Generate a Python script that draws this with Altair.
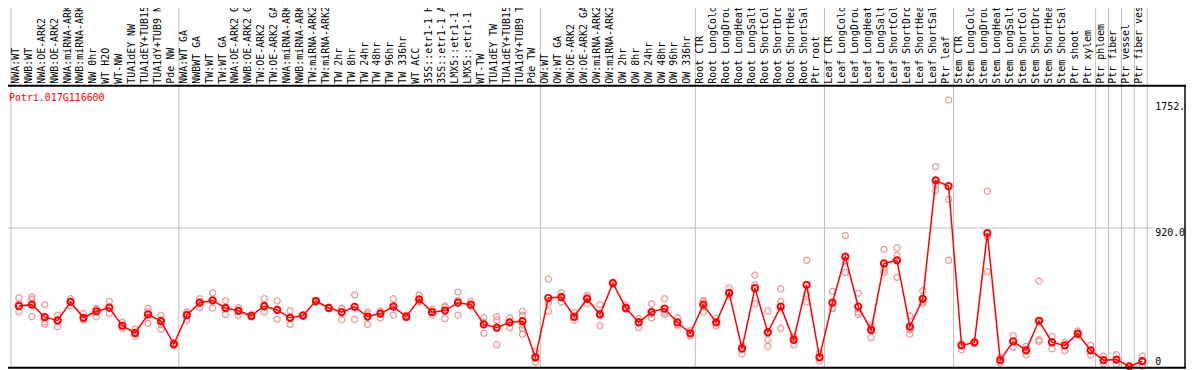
import altair as alt
import pandas as pd

TITLE = "Potri.017G116600"

LABELS = [
    "NWA:WT", "NWB:WT", "NWA:OE-ARK2", "NWB:OE-ARK2", "NWA:miRNA-ARK2", "NWB:miRNA-ARK2",
    "NW 0hr", "WT H2O", "WT-NW", "TUA1dEY NW", "TUA1dEY+TUB15", "TUA1dY+TUB9 NW", "Pde NW",
    "NWA:WT GA", "NWBWT GA", "TW:WT", "TW:WT GA", "NWA:OE-ARK2 GA", "NWB:OE-ARK2 GA",
    "TW:OE-ARK2", "TW:OE-ARK2 GA", "NWA:miRNA-ARK2", "NWB:miRNA-ARK2", "TW:miRNA-ARK2",
    "TW:miRNA-ARK2", "TW 2hr", "TW 8hr", "TW 24hr", "TW 48hr", "TW 96hr", "TW 336hr",
    "WT ACC", "35S::etr1-1 H2", "35S::etr1-1 AC", "LMX5::etr1-1 H", "LMX5::etr1-1 A",
    "WT-TW", "TUA1dEY TW", "TUA1dEY+TUB15", "TUA1dY+TUB9 TW", "Pde TW",
    "OW:WT", "OW:WT GA", "OW:OE-ARK2", "OW:OE-ARK2 GA", "OW:miRNA-ARK2", "OW:miRNA-ARK2",
    "OW 2hr", "OW 8hr", "OW 24hr", "OW 48hr", "OW 96hr", "OW 336hr",
    "Root CTR", "Root LongCold", "Root LongDroug", "Root LongHeat", "Root LongSalt",
    "Root ShortCold", "Root ShortDrou", "Root ShortHeat", "Root ShortSalt", "Ptr root",
    "Leaf CTR", "Leaf LongCold", "Leaf LongDroug", "Leaf LongHeat", "Leaf LongSalt",
    "Leaf ShortCold", "Leaf ShortDrou", "Leaf ShortHeat", "Leaf ShortSalt", "Ptr leaf",
    "Stem CTR", "Stem LongCold", "Stem LongDroug", "Stem LongHeat", "Stem LongSalt",
    "Stem ShortCold", "Stem ShortDrou", "Stem ShortHeat", "Stem ShortSalt", "Ptr shoot",
    "Ptr xylem", "Ptr phloem", "Ptr fiber", "Ptr vessel", "Ptr fiber vess",
]

MEANS = [
    403, 412, 329, 307, 430, 325, 368, 392, 273, 224, 347, 303, 150,
    342, 425, 440, 390, 371, 338, 403, 377, 325, 340, 436, 390, 362, 397, 333, 353,
    399, 332, 447, 362, 373, 425, 412, 281, 260, 294, 303, 63,
    456, 462, 332, 451, 347, 554, 390, 294, 364, 386, 294, 222,
    412, 294, 490, 120, 521, 229, 399, 179, 543, 63,
    425, 730, 399, 244, 685, 706, 266, 451, 1236, 1197,
    142, 162, 887, 44, 168, 109, 305, 163, 142, 220,
    109, 44, 48, 2, 37,
]

REPLICATES = [
    [456, 418, 364], [462, 447, 332], [412, 299, 283], [342, 266, 310], [451, 403, 432],
    [353, 309, 320], [386, 332, 380], [434, 353, 390], [294, 255, 270], [250, 201, 220],
    [386, 288, 365], [340, 310, 280, 250], [160, 140],
    [364, 309, 350], [451, 392, 430], [490, 390, 440], [438, 347, 385], [392, 342, 375],
    [345, 330], [451, 364, 395], [436, 316, 380], [371, 281, 325], [345, 335], [440, 430],
    [395, 385], [386, 312, 388], [477, 314, 400], [364, 281, 350], [368, 325, 365],
    [451, 342, 405], [342, 325], [477, 434, 430], [381, 342, 363], [403, 320, 395],
    [495, 342, 440], [434, 400], [325, 222, 295], [332, 309, 146, 255], [325, 260, 297],
    [368, 342, 277, 255, 216], [103, 31, 55],
    [582, 368, 420], [490, 430, 465], [360, 309, 327], [473, 418, 460], [412, 273, 355],
    [560, 548], [407, 380], [320, 260, 300], [418, 325, 350], [451, 347, 360],
    [325, 277, 280], [240, 204],
    [440, 364, 430], [320, 270], [521, 470], [142, 85, 130], [608, 543, 418],
    [371, 179, 135], [517, 434, 255], [146, 200, 190], [706, 484, 430], [92, 60, 40],
    [499, 386, 390], [870, 626, 700], [488, 347, 362], [277, 194, 260], [778, 647, 626],
    [789, 739, 593], [338, 216, 245], [505, 418, 430], [1327, 1170, 1210], [1770, 1110, 706],
    [113, 150], [165, 155], [1164, 865, 630], [26, 60], [205, 129],
    [135, 80], [569, 179, 168], [201, 120], [162, 107], [237, 210],
    [142, 77], [70, 20], [80, 15], [5, 0], [70, 2],
]

GROUP_STARTS = [0, 13, 41, 53, 63, 73, 84, 85, 86, 87]
LAST_COLUMN = [87]
GRID_VALUES = [920]
Y_TICK_VALUES = [1752, 920, 0]
Y_TICK_LABELS = ["1752.0", "920.0", "0"]

W, H = 1144, 284
FONT = "DejaVu Sans Mono"
BP = 8 / 13

idx = list(range(len(LABELS)))
means_df = pd.DataFrame({"idx": idx, "label": LABELS, "mean": MEANS})
rep_df = pd.DataFrame(
    [{"idx": i, "value": v} for i, reps in enumerate(REPLICATES) for v in reps]
)
ticks_df = pd.DataFrame({"v": Y_TICK_VALUES, "t": Y_TICK_LABELS})
one = pd.DataFrame({"a": [0]})

xscale = alt.Scale(type="band", domain=idx, paddingInner=0, paddingOuter=0)
yscale = alt.Scale(domain=[-6.6, 1863.7], nice=False, zero=False)


def X(bp=BP):
    return alt.X("idx:O", scale=xscale, axis=None, bandPosition=bp)


def Y(field):
    return alt.Y(field, scale=yscale, axis=None)


seps = alt.Chart(pd.DataFrame({"idx": GROUP_STARTS})).mark_rule(
    color="#c0c0c0", strokeWidth=1
).encode(x=X(0), y=alt.value(-80), y2=alt.value(H))

right_sep = alt.Chart(pd.DataFrame({"idx": LAST_COLUMN})).mark_rule(
    color="#c0c0c0", strokeWidth=1
).encode(x=X(1), y=alt.value(-80), y2=alt.value(H))

grid = alt.Chart(pd.DataFrame({"v": GRID_VALUES})).mark_rule(
    color="#c0c0c0", strokeWidth=1
).encode(y=Y("v:Q"), x=alt.value(-3), x2=alt.value(1151))

header = alt.Chart(means_df).mark_text(
    angle=270, align="left", baseline="alphabetic", font=FONT, fontSize=10, color="black"
).encode(x=X(), y=alt.value(-2), text="label:N")

title = alt.Chart(pd.DataFrame({"t": [TITLE]})).mark_text(
    align="left", baseline="middle", font=FONT, fontSize=10, color="#ff0000"
).encode(x=alt.value(-2), y=alt.value(12), text="t:N")

reps = alt.Chart(rep_df).mark_point(
    shape="circle", filled=False, size=38, strokeWidth=1.3, color="#ee9a9a", opacity=1
).encode(x=X(), y=Y("value:Q"))

line = alt.Chart(means_df).mark_line(color="#ff0000", strokeWidth=1.5).encode(
    x=X(), y=Y("mean:Q")
)

mean_pts = alt.Chart(means_df).mark_point(
    shape="circle", filled=False, size=40, strokeWidth=2, color="#ff0000", opacity=1
).encode(x=X(), y=Y("mean:Q"))

ylab_top = alt.Chart(ticks_df).transform_filter("datum.v > 0").mark_text(
    align="left", baseline="top", font=FONT, fontSize=10, color="black"
).encode(x=alt.value(1152), y=Y("v:Q"), text="t:N")

ylab_zero = alt.Chart(ticks_df).transform_filter("datum.v == 0").mark_text(
    align="left", baseline="bottom", font=FONT, fontSize=10, color="black"
).encode(x=alt.value(1152), y=Y("v:Q"), text="t:N")

header_line = alt.Chart(one).mark_rule(color="black", strokeWidth=2).encode(
    x=alt.value(-3), x2=alt.value(1183), y=alt.value(0)
)
bottom_line = alt.Chart(one).mark_rule(color="black", strokeWidth=2).encode(
    x=alt.value(-3), x2=alt.value(1183), y=alt.value(H)
)
right_line = alt.Chart(one).mark_rule(color="black", strokeWidth=1.5).encode(
    x=alt.value(1182), y=alt.value(0), y2=alt.value(H)
)

chart = alt.layer(
    seps, right_sep, grid, header, title, reps, line, mean_pts,
    ylab_top, ylab_zero, header_line, bottom_line, right_line,
).properties(
    width=W, height=H,
    autosize=alt.AutoSizeParams(type="none"),
    padding={"left": 3, "top": 77, "right": 39, "bottom": 1},
).configure_view(stroke=None)

chart.save("out.html", embed_options={"renderer": "svg", "actions": False})
